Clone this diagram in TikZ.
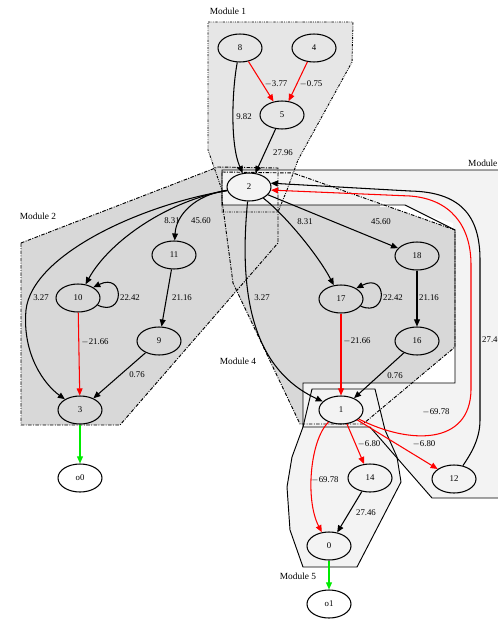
\documentclass[tikz,border=0pt]{standalone}
\usepackage{fontspec}
\setmainfont{Liberation Serif}
\usetikzlibrary{arrows.meta,shapes.geometric}
\definecolor{hullmid}{RGB}{230,230,230}
\definecolor{hulldark}{RGB}{216,216,216}
\definecolor{hulllight}{RGB}{243,243,243}
\definecolor{negred}{RGB}{255,0,0}
\definecolor{outgreen}{RGB}{0,235,0}
\begin{document}
\begin{tikzpicture}[x=0.03cm,y=-0.03cm,
  vert/.style={ellipse,draw,line width=0.9pt,minimum width=1.32cm,minimum height=0.84cm,
    inner sep=0pt,font=\fontsize{7.5}{9}\selectfont},
  wire/.style={line width=0.9pt,-{Triangle[length=6pt,width=5pt]}},
  negwire/.style={wire,negred},
  outwire/.style={wire,outgreen},
  lbl/.style={font=\fontsize{7.5}{9}\selectfont,inner sep=0pt},
  modlbl/.style={font=\fontsize{8}{9}\selectfont,inner sep=0pt},
  borderdotted/.style={line width=0.8pt,dash pattern=on 2pt off 1pt on 0.6pt off 1pt on 0.6pt off 1pt},
  borderdashdot/.style={line width=0.8pt,dash pattern=on 3pt off 1.2pt on 0.8pt off 1.2pt},
  bordersolid/.style={line width=0.8pt}
]
\useasboundingbox (0,0) rectangle (497,620);

% ---- module hulls: fills ----
\path[fill=hullmid] (208,22)--(353,22)--(352,62)--(298,160)--(287,190)--(278,212)--(222,212)--(222,190)--(208,150)--cycle;
\path[fill=hulldark] (21,243)--(218,167)--(278,168)--(278,243)--(120,425)--(21,425)--cycle;
\path[fill=hulldark] (222,172)--(293,173)--(455,230)--(455,347)--(363,424)--(300,424)--(233,283)--(222,200)--cycle;
\path[fill=hulllight] (222,170)--(510,170)--(510,498)--(432,498)--(370,427)--(303,427)--(303,383)--(455,383)--(455,230)--(405,205)--(222,205)--cycle;
\path[fill=hulllight] (312,389)--(375,389)--(385,430)--(397,457)--(401,482)--(357,567)--(303,567)--(290,530)--(287,487)--(292,457)--(303,427)--cycle;
\path[fill=white] (380,201)--(453,223)--(453,230)--(403,207)--(380,207)--cycle;

% ---- module hulls: borders ----
\draw[borderdotted] (208,22)--(353,22)--(352,62)--(298,160)--(287,190)--(278,212)--(222,212)--(222,190)--(208,150)--cycle;
\draw[borderdashdot] (21,243)--(218,167)--(278,168)--(278,243)--(120,425)--(21,425)--cycle;
\draw[borderdashdot] (222,172)--(293,173)--(455,230)--(455,347)--(363,424)--(300,424)--(233,283)--(222,200)--cycle;
\draw[bordersolid] (222,170)--(510,170)--(510,498)--(432,498)--(370,427)--(303,427)--(303,383)--(455,383)--(455,230)--(405,205)--(222,205)--cycle;
\draw[bordersolid] (312,389)--(375,389)--(385,430)--(397,457)--(401,482)--(357,567)--(303,567)--(290,530)--(287,487)--(292,457)--(303,427)--cycle;

% ---- module titles ----
\node[modlbl] (t1) at (228,11) {Module 1};
\node[modlbl] (t2) at (38,216) {Module 2};
\node[modlbl,anchor=west] (t3) at (468,163) {Module 3};
\node[modlbl] (t4) at (238,361) {Module 4};
\node[modlbl] (t5) at (298,576) {Module 5};

% ---- vertices ----
\node[vert] (n8)  at (240,48)  {8};
\node[vert] (n4)  at (314,48)  {4};
\node[vert] (n5)  at (282,115) {5};
\node[vert] (n2)  at (249,187) {2};
\node[vert] (n11) at (174,255) {11};
\node[vert] (n10) at (78,298)  {10};
\node[vert] (n9)  at (159,341) {9};
\node[vert] (n3)  at (80,410)  {3};
\node[vert] (o0)  at (80,478)  {o0};
\node[vert] (n18) at (417,256) {18};
\node[vert] (n17) at (341,299) {17};
\node[vert] (n16) at (417,341) {16};
\node[vert] (n1)  at (341,410) {1};
\node[vert] (n14) at (370,478) {14};
\node[vert] (n12) at (454,479) {12};
\node[vert] (n0)  at (329,546) {0};
\node[vert] (o1)  at (329,604) {o1};

% ---- Module 1 edges ----
\draw[negwire] (n8) -- (n5);
\draw[negwire] (n4) -- (n5);
\draw[wire] (n8) .. controls (232,90) and (230,145) .. (n2);
\draw[wire] (n5) -- (n2);
\node[lbl] (l85) at (276,84) {$-$3.77};
\node[lbl] (l45) at (311,84) {$-$0.75};
\node[lbl] (l82) at (244,117) {9.82};
\node[lbl] (l52) at (283,153) {27.96};

% ---- Module 2 edges ----
\draw[wire] (n2) .. controls (170,200) and (110,240) .. (n10);
\draw[wire] (n2) .. controls (195,195) and (176,215) .. (n11);
\draw[wire] (n2) .. controls (140,205) and (32,255) .. (26,310) .. controls (22,355) and (45,385) .. (n3);
\draw[wire] (n10.-20) .. controls (125,318) and (125,272) .. (n10.35);
\draw[negwire] (n10) -- (n3);
\draw[wire] (n11) -- (n9);
\draw[wire] (n9) -- (n3);
\draw[outwire] (n3) -- (o0);
\node[lbl] (l210) at (172,221) {8.31};
\node[lbl] (l211) at (201,221) {45.60};
\node[lbl] (l23)  at (41,298)  {3.27};
\node[lbl] (l1010) at (130,298) {22.42};
\node[lbl] (l103) at (95,342) {$-$21.66};
\node[lbl] (l119) at (182,298) {21.16};
\node[lbl] (l93)  at (137,375) {0.76};

% ---- Module 3 / 4 edges ----
\draw[wire] (n2) .. controls (285,215) and (318,255) .. (n17);
\draw[wire] (n2) -- (n18);
\draw[wire] (n2) .. controls (238,300) and (255,370) .. (n1);
\draw[wire] (n17.-20) .. controls (388,318) and (388,272) .. (n17.35);
\draw[negwire] (n17) -- (n1);
\draw[wire] (n18) -- (n16);
\draw[wire] (n16) -- (n1);
\node[lbl] (l217) at (305,222) {8.31};
\node[lbl] (l218) at (381,222) {45.60};
\node[lbl] (l21)  at (262,298) {3.27};
\node[lbl] (l1717) at (393,298) {22.42};
\node[lbl] (l171) at (357,341) {$-$21.66};
\node[lbl] (l1816) at (429,298) {21.16};
\node[lbl] (l161) at (395,376) {0.76};

\draw[negwire] (n1) .. controls (410,445) and (470,445) .. (471,390) -- (471,265)
  .. controls (471,225) and (450,199) .. (410,196) -- (n2.-8);
\draw[wire] (n12) .. controls (470,455) and (480,440) .. (480,420) -- (480,260)
  .. controls (480,215) and (460,192) .. (410,191) -- (n2.10);
\draw[negwire] (n1) -- (n12);
\node[lbl] (l12a) at (436,412) {$-$69.78};
\node[lbl] (l112) at (424,444) {$-$6.80};
\node[lbl,anchor=west] (l122) at (482,340) {27.46};

% ---- Module 5 edges ----
\draw[negwire] (n1) -- (n14);
\draw[negwire] (n1) .. controls (310,440) and (305,500) .. (n0);
\draw[wire] (n14) -- (n0);
\draw[outwire] (n0) -- (o1);
\node[lbl] (l114) at (369,444) {$-$6.80};
\node[lbl] (l10)  at (325,480) {$-$69.78};
\node[lbl] (l140) at (366,513) {27.46};
\end{tikzpicture}
\end{document}
